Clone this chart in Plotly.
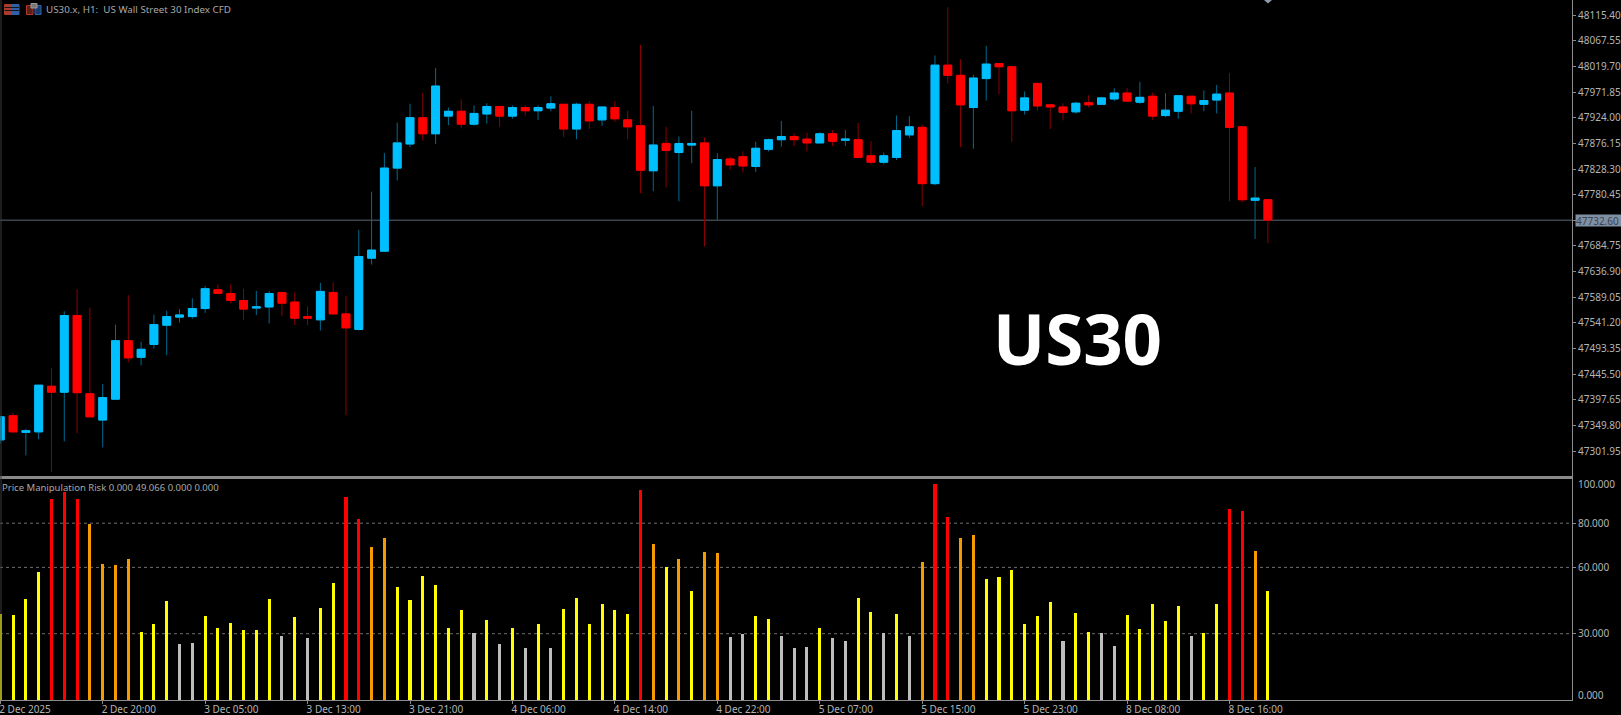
import plotly.graph_objects as go

# ---- data ----
open_ = [47323,47368,47337,47338,47423,47412,47555,47409,47360,47399,
         47508,47477,47501,47537,47552,47553,47568,47603,47596,47583,
         47569,47571,47598,47580,47553,47547,47598,47558,47529,47662,
         47675,47830,47875,47924,47894,47927,47936,47912,47931,47945,
         47927,47943,47937,47942,47949,47903,47949,47920,47943,47920,
         47909,47825,47876,47859,47873,47877,47797,47847,47851,47833,
         47865,47883,47889,47884,47877,47894,47882,47883,47853,47841,
         47850,47892,47906,47801,48022,48003,47943,47997,48025,48019,
         47938,47988,47948,47944,47935,47952,47949,47959,47970,47953,
         47964,47928,47936,47964,47949,47957,47970,47907,47770,47771]
high = [47368,47373,47344,47425,47457,47563,47604,47570,47427,47538,
        47593,47506,47557,47564,47567,47587,47610,47613,47613,47605,
        47601,47601,47598,47598,47572,47616,47617,47592,47715,47786,
        47858,47915,47950,47970,48017,47943,47958,47947,47951,47945,
        47947,47947,47947,47964,47949,47952,47955,47944,47955,47937,
        48060,47946,47907,47889,47937,47887,47858,47851,47861,47879,
        47885,47918,47895,47896,47897,47901,47901,47914,47880,47859,
        47928,47927,47911,48040,48130,48033,48004,48058,48025,48019,
        47973,47988,47950,47951,47954,47966,47963,47979,47979,47991,
        47971,47970,47965,47964,47975,47985,48007,47907,47832,47771]
low = [47316,47335,47294,47324,47263,47320,47335,47366,47309,47399,
       47468,47462,47493,47481,47542,47549,47560,47595,47578,47547,
       47556,47540,47554,47537,47537,47527,47558,47369,47527,47650,
       47675,47807,47869,47881,47875,47910,47904,47909,47913,47907,
       47922,47928,47920,47936,47888,47884,47903,47909,47916,47884,
       47783,47787,47794,47768,47839,47684,47734,47827,47822,47823,
       47861,47870,47871,47861,47877,47871,47871,47848,47837,47837,
       47845,47886,47759,47798,47988,47869,47866,47956,47968,47879,
       47930,47937,47903,47919,47931,47943,47949,47955,47955,47950,
       47920,47925,47922,47932,47936,47932,47768,47766,47698,47690]
close = [47366,47338,47340,47425,47412,47555,47411,47366,47402,47508,
         47476,47492,47538,47553,47556,47568,47605,47596,47583,47567,
         47571,47596,47578,47550,47550,47600,47558,47532,47665,47677,
         47830,47877,47924,47894,47983,47936,47912,47932,47945,47927,
         47943,47937,47943,47950,47903,47949,47918,47944,47922,47907,
         47826,47873,47863,47876,47876,47797,47846,47836,47834,47867,
         47883,47889,47883,47877,47894,47880,47884,47850,47841,47853,
         47900,47907,47801,48022,48003,47948,47998,48024,48019,47937,
         47961,47946,47944,47934,47951,47948,47961,47970,47955,47962,
         47927,47938,47965,47950,47956,47968,47906,47771,47774,47733]

risk = [38.9,38.6,45.9,58.1,90.9,94.0,91.0,79.5,61.7,60.9,
        64.0,30.6,34.2,44.6,25.2,25.9,38.2,32.4,34.8,31.7,
        31.7,45.7,28.8,37.6,28.1,41.8,53.1,91.9,82.0,69.4,
        73.3,51.0,45.1,56.0,52.0,32.4,40.7,30.2,36.3,25.5,
        32.4,23.7,34.2,23.7,41.0,46.2,34.2,43.6,40.7,38.9,
        95.0,70.4,60.2,64.0,49.3,66.8,66.4,28.5,30.0,38.2,
        36.7,29.1,23.7,24.0,32.4,28.1,26.5,46.2,39.7,30.2,
        38.9,29.1,62.4,97.9,83.0,73.3,74.8,54.9,55.7,58.8,
        34.2,37.9,44.3,26.5,39.2,30.9,30.2,24.4,38.6,32.0,
        43.3,35.6,42.5,29.1,30.2,43.3,86.4,85.7,67.3,49.3]
# per-bar class, in bar order: y=yellow r=red o=orange g=grey
risk_level = list(
    "yyyyrrrooo" "oyyyggyyyy" "yygygyyrro" "oyyyyyygyg" "ygygyyyyyy"
    "royoyooggy" "ygggyggyyg" "ygorroo" "yyy" "yyygyyggyy" "yyygyyrroy"
)

price_ticks = [48115.40,48067.55,48019.70,47971.85,47924.00,47876.15,47828.30,47780.45,47732.60,
               47684.75,47636.90,47589.05,47541.20,47493.35,47445.50,47397.65,47349.80,47301.95]
last_price = 47732.60
risk_ticks = [30, 60, 80]
risk_label_ends = [(100, "100.000"), (0, "0.000")]
time_tick_bars = [0,8,16,24,32,40,48,56,64,72,80,88,96]
time_tick_labels = ["2 Dec 2025","2 Dec 20:00","3 Dec 05:00","3 Dec 13:00","3 Dec 21:00","4 Dec 06:00",
                    "4 Dec 14:00","4 Dec 22:00","5 Dec 07:00","5 Dec 15:00","5 Dec 23:00","8 Dec 08:00","8 Dec 16:00"]

# ---- styles / layout ----
W, H = 1621, 715
BLUE, RED, ORANGE, YELLOW, GREY = "#00BFFF", "#FF0000", "#F59B00", "#FFFF00", "#BDBDBD"
WICK_BLUE, WICK_RED = "#006A8E", "#8C0000"
AXIS = "#8C8C8C"
TEXT = "#B4B4B4"
FONT = "Noto Sans"
PLOT_R = 1572
def px(x): return x / W
def py(y): return 1 - y / H

bars = list(range(len(open_)))
body_high = [max(o, c) for o, c in zip(open_, close)]
body_low = [min(o, c) for o, c in zip(open_, close)]
level_colors = {"y": YELLOW, "r": RED, "o": ORANGE, "g": GREY}
x_range = [-0.02, 122.75]

fig = go.Figure()
fig.add_trace(go.Candlestick(x=bars, open=open_, high=high, low=low, close=close, whiskerwidth=0,
                             increasing=dict(line=dict(color=WICK_BLUE, width=1), fillcolor=WICK_BLUE),
                             decreasing=dict(line=dict(color=WICK_RED, width=1), fillcolor=WICK_RED),
                             showlegend=False, xaxis="x", yaxis="y"))
fig.add_trace(go.Candlestick(x=bars, open=open_, high=body_high, low=body_low, close=close, whiskerwidth=0,
                             increasing=dict(line=dict(color=BLUE, width=1), fillcolor=BLUE),
                             decreasing=dict(line=dict(color=RED, width=1), fillcolor=RED),
                             showlegend=False, xaxis="x", yaxis="y"))
fig.add_trace(go.Bar(x=bars, y=risk, width=0.24,
                     marker=dict(color=[level_colors[c] for c in risk_level], line=dict(width=0)),
                     showlegend=False, xaxis="x2", yaxis="y2"))

shapes = [
    dict(type="line", xref="x", yref="y", x0=x_range[0], x1=x_range[1], y0=last_price, y1=last_price,
         line=dict(color="#3C444D", width=1.5), layer="below"),
    dict(type="line", xref="paper", yref="paper", x0=px(1), x1=px(1), y0=py(0), y1=py(700),
         line=dict(color="#3A3A3A", width=1)),
    dict(type="path", xref="paper", yref="paper",
         path=f"M {px(1264)} {py(0)} L {px(1272)} {py(0)} L {px(1268)} {py(3.5)} Z",
         fillcolor="#8C9AAA", line=dict(width=0)),
]
for lvl in risk_ticks:
    shapes.append(dict(type="line", xref="x2", yref="y2", x0=x_range[0], x1=x_range[1], y0=lvl, y1=lvl,
                       line=dict(color="#6E6E6E", width=1, dash="dot"), layer="below"))
# toolbar icons
def rect(x0, y0, x1, y1, col, fill=None):
    return dict(type="rect", xref="paper", yref="paper", x0=px(x0), x1=px(x1), y0=py(y0), y1=py(y1),
                line=dict(color=col, width=1), fillcolor=fill or "rgba(0,0,0,0)")
shapes += [rect(4.5, 4.5, 11.5, 14.5, "#B0392E", "#A83A30"), rect(11.5, 4.5, 19, 14.5, "#2F63B0", "#2F5FA8")]
for yy in (7.5, 10.5):
    shapes.append(dict(type="line", xref="paper", yref="paper", x0=px(4.5), x1=px(19), y0=py(yy), y1=py(yy),
                       line=dict(color="#141414", width=1)))
shapes += [rect(26.5, 5.5, 33, 14.5, "#B0392E", "#5A1F1A"), rect(35, 5.5, 41, 14.5, "#2F63B0", "#1C3A6A"),
           rect(31, 3.5, 37, 8, "#9A9A9A", "#777777")]

annotations = [
    dict(text="US30.x, H1:  US Wall Street 30 Index CFD", x=px(44), y=py(10), xref="paper", yref="paper",
         xanchor="left", yanchor="middle", showarrow=False, font=dict(family=FONT, size=9.8, color="#A8A8A8")),
    dict(text="Price Manipulation Risk 0.000 49.066 0.000 0.000", x=px(0), y=py(487.5), xref="paper", yref="paper",
         xanchor="left", yanchor="middle", showarrow=False, font=dict(family=FONT, size=9.5, color="#A8A8A8")),
    dict(text="<b>US30</b>", x=px(1077), y=py(337.5), xref="paper", yref="paper", xanchor="center", yanchor="middle",
         showarrow=False, font=dict(family="Open Sans", size=69, color="#FFFFFF")),
    dict(text=f"{last_price:.2f}", x=px(1575), y=last_price, xref="paper", yref="y", xanchor="left", yanchor="middle",
         showarrow=False, bgcolor="#7F90A4", borderpad=0, width=46, height=11, align="left",
         font=dict(family=FONT, size=10, color="#3A4450")),
]
for val, lab in risk_label_ends:
    annotations.append(dict(text=lab, x=px(1576), y=val, xref="paper", yref="y2", xanchor="left", yanchor="middle",
                            yshift=-5 if val else 5, showarrow=False, font=dict(family=FONT, size=10, color=TEXT)))

fig.update_layout(
    width=W, height=H, margin=dict(l=0, r=0, t=0, b=0), paper_bgcolor="#000000", plot_bgcolor="#000000",
    bargap=0, boxgap=0.12, showlegend=False, hovermode=False,
    shapes=shapes, annotations=annotations,
    xaxis=dict(domain=[0, PLOT_R / W], range=x_range, anchor="y", showgrid=False, zeroline=False,
               showticklabels=False, ticks="", rangeslider=dict(visible=False),
               showline=True, linecolor="#8A8A8A", linewidth=3),
    yaxis=dict(domain=[py(476), 1], range=[47255.6, 48143.6], side="right", anchor="x", showgrid=False, zeroline=False,
               tickvals=price_ticks, ticktext=[f"{v:.2f}" for v in price_ticks], ticks="outside", ticklen=3,
               tickcolor=AXIS, showline=True, linecolor=AXIS, linewidth=1,
               tickfont=dict(family=FONT, size=10, color=TEXT)),
    xaxis2=dict(domain=[0, PLOT_R / W], range=x_range, anchor="y2", showgrid=False, zeroline=False,
                tickvals=time_tick_bars, ticktext=time_tick_labels, ticks="outside", ticklen=3, tickcolor=AXIS,
                ticklabelposition="outside right", ticklabelshift=-2, ticklabeloverflow="allow",
                showline=True, linecolor=AXIS, linewidth=1,
                tickfont=dict(family=FONT, size=10, color=TEXT)),
    yaxis2=dict(domain=[py(700), py(479)], range=[0, 100], side="right", anchor="x2", showgrid=False, zeroline=False,
                tickvals=risk_ticks, ticktext=[f"{v:.3f}" for v in risk_ticks], ticks="outside", ticklen=3,
                tickcolor=AXIS, showline=True, linecolor=AXIS, linewidth=1,
                tickfont=dict(family=FONT, size=10, color=TEXT)),
)

fig.write_html("out.html", config=dict(displayModeBar=False),
               post_script="document.body.style.margin='0';document.body.style.overflow='hidden';document.body.style.background='#000';")
